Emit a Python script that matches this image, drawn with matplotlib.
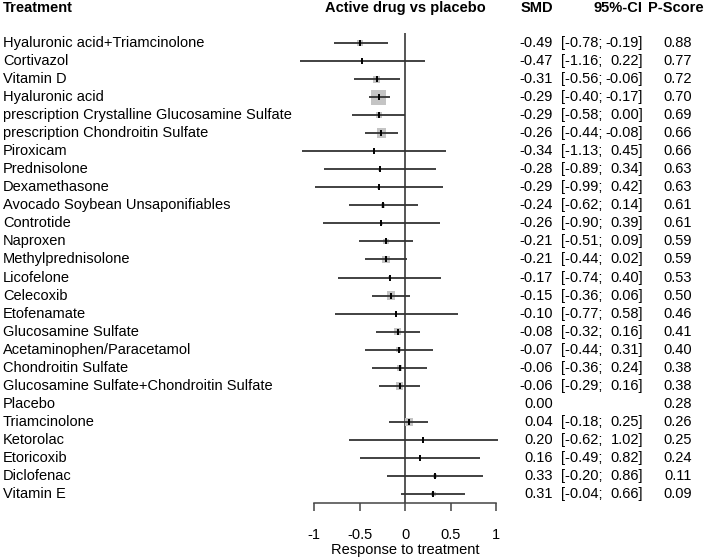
import numpy as np
import matplotlib
matplotlib.use("Agg")
import matplotlib.pyplot as plt
from matplotlib.transforms import blended_transform_factory

plt.rcParams["font.family"] = ["Liberation Sans", "DejaVu Sans"]

treatments = [
    "Hyaluronic acid+Triamcinolone", "Cortivazol", "Vitamin D", "Hyaluronic acid",
    "prescription Crystalline Glucosamine Sulfate", "prescription Chondroitin Sulfate",
    "Piroxicam", "Prednisolone", "Dexamethasone", "Avocado Soybean Unsaponifiables",
    "Controtide", "Naproxen", "Methylprednisolone", "Licofelone", "Celecoxib",
    "Etofenamate", "Glucosamine Sulfate", "Acetaminophen/Paracetamol",
    "Chondroitin Sulfate", "Glucosamine Sulfate+Chondroitin Sulfate", "Placebo",
    "Triamcinolone", "Ketorolac", "Etoricoxib", "Diclofenac", "Vitamin E",
]
smd = [-0.49, -0.47, -0.31, -0.29, -0.29, -0.26, -0.34, -0.28, -0.29, -0.24,
       -0.26, -0.21, -0.21, -0.17, -0.15, -0.10, -0.08, -0.07, -0.06, -0.06,
       0.00, 0.04, 0.20, 0.16, 0.33, 0.31]
ci_low = [-0.78, -1.16, -0.56, -0.40, -0.58, -0.44, -1.13, -0.89, -0.99, -0.62,
          -0.90, -0.51, -0.44, -0.74, -0.36, -0.77, -0.32, -0.44, -0.36, -0.29,
          np.nan, -0.18, -0.62, -0.49, -0.20, -0.04]
ci_high = [-0.19, 0.22, -0.06, -0.17, 0.00, -0.08, 0.45, 0.34, 0.42, 0.14,
           0.39, 0.09, 0.02, 0.40, 0.06, 0.58, 0.16, 0.31, 0.24, 0.16,
           np.nan, 0.25, 1.02, 0.82, 0.86, 0.66]
p_score = [0.88, 0.77, 0.72, 0.70, 0.69, 0.66, 0.66, 0.63, 0.63, 0.61,
           0.61, 0.59, 0.59, 0.53, 0.50, 0.46, 0.41, 0.40, 0.38, 0.38,
           0.28, 0.26, 0.25, 0.24, 0.11, 0.09]
x_ticks = [-1, -0.5, 0, 0.5, 1]

W, H = 708, 558
fig = plt.figure(figsize=(W / 100, H / 100), dpi=100)
# forest panel: x=300..510 px, y=25..503 px
ax = fig.add_axes([300 / W, (H - 503) / H, 210 / W, 478 / H])
ax.set_xlim(-105 / 91, 105 / 91)
ax.set_ylim(25.5, -1.0)

y = np.arange(len(treatments))
smd_a = np.array(smd)
lo = np.array(ci_low)
hi = np.array(ci_high)
has_ci = ~np.isnan(lo)

# box side proportional to precision (1 / CI width)
box_pt = 3.45 / (hi[has_ci] - lo[has_ci]) * 0.72
ax.scatter(smd_a[has_ci], y[has_ci], s=box_pt ** 2, marker="s",
           color="#c4c4c4", edgecolors="none", zorder=2)
ax.hlines(y[has_ci], lo[has_ci], hi[has_ci], color="#333333", lw=1.3, zorder=3)
ax.scatter(smd_a[has_ci], y[has_ci], s=14, marker="|", color="black",
           linewidths=1.4, zorder=4)
ax.vlines(0, -0.55, 25.5, color="#555555", lw=1.4, zorder=1)

for s in ["top", "right", "left"]:
    ax.spines[s].set_visible(False)
ax.spines["bottom"].set_bounds(-1, 1)
ax.spines["bottom"].set_color("#444444")
ax.spines["bottom"].set_linewidth(1.1)
ax.set_yticks([])
ax.set_xticks(x_ticks)
ax.set_xticklabels(["-1", "-0.5", "0", "0.5", "1"], fontsize=10.5)
ax.tick_params(axis="x", length=6, width=1.1, color="#444444", pad=12)
ax.set_xlabel("Response to treatment", fontsize=10.5, labelpad=1)
ax.patch.set_visible(False)

tr = blended_transform_factory(fig.transFigure, ax.transData)
fs = 10.5
hdr_y = -1.94
ax.text(3 / W, hdr_y, "Treatment", transform=tr, ha="left", va="center",
        fontsize=fs, fontweight="bold", clip_on=False)
ax.text(0, hdr_y, "Active drug vs placebo", ha="center", va="center",
        fontsize=fs, fontweight="bold", clip_on=False)
ax.text(553 / W, hdr_y, "SMD", transform=tr, ha="right", va="center",
        fontsize=fs, fontweight="bold", clip_on=False)
ax.text(643 / W, hdr_y, "95%-CI", transform=tr, ha="right", va="center",
        fontsize=fs, fontweight="bold", clip_on=False)
ax.text(704 / W, hdr_y, "P-Score", transform=tr, ha="right", va="center",
        fontsize=fs, fontweight="bold", clip_on=False)

for i, name in enumerate(treatments):
    ax.text(3 / W, i, name, transform=tr, ha="left", va="center",
            fontsize=fs, clip_on=False)
    ax.text(553 / W, i, f"{smd[i]:.2f}", transform=tr, ha="right",
            va="center", fontsize=fs, clip_on=False)
    if has_ci[i]:
        ax.text(561 / W, i, f"[{ci_low[i]:.2f};", transform=tr, ha="left",
                va="center", fontsize=fs, clip_on=False)
        ax.text(643 / W, i, f"{ci_high[i]:.2f}]", transform=tr, ha="right",
                va="center", fontsize=fs, clip_on=False)
    ax.text(692 / W, i, f"{p_score[i]:.2f}", transform=tr, ha="right",
            va="center", fontsize=fs, clip_on=False)

fig.savefig("out.png", dpi=100)
